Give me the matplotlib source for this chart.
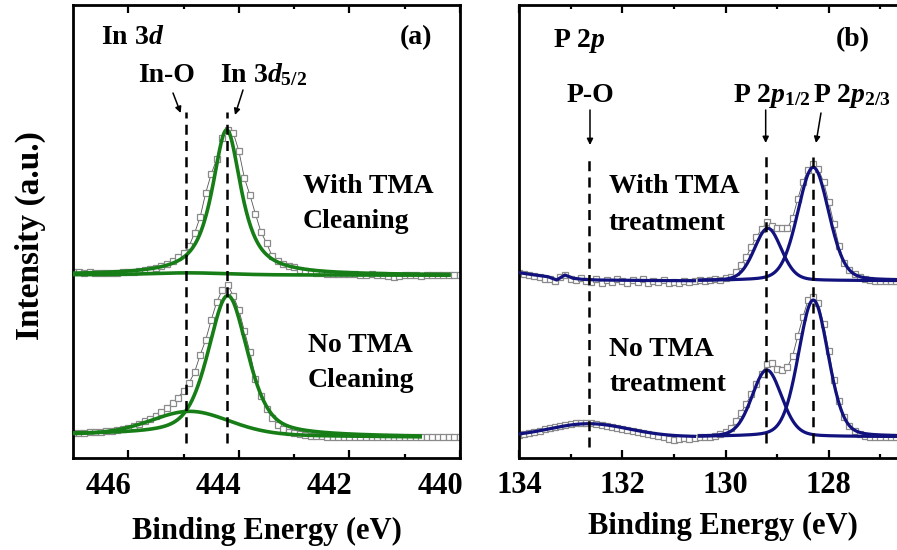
import numpy as np
import matplotlib
matplotlib.use('Agg')
import matplotlib.pyplot as plt
from matplotlib.transforms import ScaledTranslation

plt.rcParams['font.family'] = 'serif'
plt.rcParams['font.serif'] = ['Liberation Serif', 'DejaVu Serif']
plt.rcParams['font.weight'] = 'bold'
plt.rcParams['mathtext.fontset'] = 'custom'
plt.rcParams['mathtext.rm'] = 'Liberation Serif:bold'
plt.rcParams['mathtext.it'] = 'Liberation Serif:bold:italic'
plt.rcParams['mathtext.bf'] = 'Liberation Serif:bold'

## Données XPS (intensité en unités arbitraires, spectres décalés)
# In 3d : de 447.0 eV à 440.0 eV, pas 0.1 eV
in_e0 = 447.0
in_tma = [186, 186, 185.5, 186, 185.5, 185, 185.5, 185, 185.5, 186,
          186, 186.5, 187, 188, 189, 190.5, 192.5, 194.5, 197, 201,
          205, 212, 225, 241, 265, 284, 299, 320, 328.5, 325,
          307, 280, 263, 244, 226, 215, 202, 197, 194, 192,
          191, 188.5, 187, 186, 185.5, 185, 184.5, 184.5, 184, 184.5,
          184, 184, 183.5, 183.5, 184, 183.5, 183, 182, 181.5, 182,
          183, 183.5, 183, 182.5, 183, 183.5, 183, 183, 183, 183, 183]
in_notma = [25, 25.5, 25.5, 26, 26, 26.5, 27, 27.5, 28, 29.5,
            30.5, 32.5, 34.5, 37, 39.5, 42.5, 46.5, 50.5, 55, 60.5,
            67, 75, 86, 103, 118, 138, 156, 168, 173, 162,
            148, 127, 106, 79, 62, 49, 40, 33.5, 29.5, 26.5,
            25.3, 24, 23, 22.5, 22, 22, 21.5, 21.5, 21.5, 21.5,
            21, 21.5, 21, 21, 21.5, 21, 21, 21.5, 21, 21,
            21, 21.5, 21, 21, 21, 21.5, 21, 21, 21, 21, 21]

# P 2p : de 134.0 eV à 126.7 eV, pas 0.1 eV
p_e0 = 134.0
p_tma = [185, 184, 183, 182, 181, 179.5, 179, 177, 181, 183,
         179, 178, 180, 177, 176, 179, 175.5, 178, 176.5, 179.5,
         177, 175, 178.5, 176, 179, 175.5, 177, 176, 178, 175,
         176.5, 175, 177, 176, 177.5, 178, 177, 178, 179, 178,
         180, 181, 186, 193, 201, 211, 221.3, 228.7, 236, 232,
         230, 230.5, 230, 240, 259, 276, 288, 294, 289, 276,
         256, 234, 212, 195, 188.5, 184.5, 181.5, 179.5, 178, 177.5,
         177, 177.5, 177, 177]
p_notma = [23.5, 24.5, 25.5, 26.5, 27.5, 29, 30, 31.5, 32.5, 33.5,
           34.5, 35, 35.5, 35.5, 35, 34.5, 33.5, 32.5, 31.5, 30.5,
           29, 28, 27, 26, 25, 24, 23, 22, 21, 19.5,
           18.5, 19.5, 20.5, 19.5, 20, 21.5, 21.3, 21.5, 22, 24,
           26, 30, 37, 45, 54, 64, 74, 84, 94, 95,
           89.5, 88, 91, 102, 122, 141, 158, 160.7, 155, 134,
           107, 78, 57, 41, 32, 27.5, 24.5, 22.5, 21.3, 21.5,
           21, 21.5, 21, 21.3]

# Composantes ajustées : (centre eV, hauteur, largeur à mi-hauteur eV, fraction lorentzienne)
in_tma_fit = [(444.22, 145, 0.63, 0.85), (444.9, 2, 1.6, 0.2)]
in_tma_bg = (183.3, 182.8)      # fond à 447.0 et 440.2 eV
in_notma_fit = [(444.2, 140, 0.85, 0.5), (444.88, 24, 1.7, 0.2)]
in_notma_bg = (23.5, 21.0)      # fond à 447.0 et 440.72 eV

p_tma_fit = [(128.30, 113.4, 0.71, 0.2), (129.18, 52.4, 0.62, 0.2)]
p_tma_bg = 177.3
# ligne de fond P-O (avec TMA), relevée point par point
p_tma_po_e = [134.0, 133.69, 133.44, 133.27, 133.11, 132.95, 132.78, 132.47, 131.5, 130.6]
p_tma_po_h = [185.3, 183, 181.3, 178, 183, 179.7, 178.7, 178, 177.5, 177.3]
p_notma_fit = [(128.30, 136.7, 0.68, 0.2), (129.20, 66.7, 0.68, 0.2)]
p_notma_po = (132.65, 13, 1.8, 0.0)
p_notma_bg = 21.3

# positions des traits verticaux
in_lines = [444.95, 444.22]
p_lines = [132.64, 129.21, 128.31]

green = '#177d17'
navy = '#12127e'


def pvoigt(e, c, h, w, eta):
    u = (e - c) / w
    return h * (eta / (1 + 4 * u**2) + (1 - eta) * np.exp(-4 * np.log(2) * u**2))


def donnees(ax, e0, vals):
    e = e0 - 0.1 * np.arange(len(vals))
    ax.plot(e, vals, '-', color='#555555', lw=0.6, marker='s', ms=4.6,
            mfc='white', mec='#8a8a8a', mew=0.9, zorder=2)


def style(ax):
    for s in ax.spines.values():
        s.set_linewidth(2)
    ax.set_ylim(0, 453)
    ax.tick_params(which='both', direction='in', top=True, bottom=True,
                   left=False, right=False, labelleft=False, width=1.6)
    ax.tick_params(which='major', length=5.5, labelsize=22)
    ax.tick_params(which='minor', length=3)


fig = plt.figure(figsize=(8.97, 5.5), dpi=100)
ax1 = fig.add_axes([73/897, 92/550, 387/897, 453/550])
ax2 = fig.add_axes([519/897, 92/550, 413/897, 453/550])

## (a) In 3d
style(ax1)
ax1.set_xlim(447.0, 440.03)
ax1.set_xticks([446, 444, 442, 440])
ax1.set_xticks([445, 443, 441], minor=True)
ax1.tick_params(which='major', pad=10)
for lab in ax1.get_xticklabels():
    lab.set_transform(lab.get_transform() + ScaledTranslation(-0.2, 0, fig.dpi_scale_trans))

donnees(ax1, in_e0, in_tma)
donnees(ax1, in_e0, in_notma)

e = np.linspace(447.0, 440.2, 500)
fond = in_tma_bg[0] + (in_tma_bg[1] - in_tma_bg[0]) * (447.0 - e) / (447.0 - 440.2)
for c, h, w, eta in in_tma_fit:
    ax1.plot(e, fond + pvoigt(e, c, h, w, eta), color=green, lw=2.6, zorder=3)
e = np.linspace(447.0, 440.72, 500)
fond = in_notma_bg[0] + (in_notma_bg[1] - in_notma_bg[0]) * (447.0 - e) / (447.0 - 440.72)
for c, h, w, eta in in_notma_fit:
    ax1.plot(e, fond + pvoigt(e, c, h, w, eta), color=green, lw=2.6, zorder=3)

for x in in_lines:
    ax1.plot([x, x], [15, 346], color='black', lw=1.8, dashes=(4, 2.5), zorder=4)

t = dict(transform=ax1.transAxes, fontsize=20, fontweight='bold', va='baseline')
ax1.text(0.0716, 0.914, 'In 3$d$', **t)
ax1.text(0.928, 0.914, '(a)', ha='right', **t)
ax1.text(0.243, 0.830, 'In-O', ha='center', **t)
ax1.text(0.380, 0.830, r'In 3$d_{\mathrm{5/2}}$', **t)
ax1.text(0.594, 0.584, 'With TMA', **t)
ax1.text(0.594, 0.507, 'Cleaning', **t)
ax1.text(0.607, 0.2347, 'No TMA', **t)
ax1.text(0.607, 0.157, 'Cleaning', **t)

fl = dict(arrowstyle='-|>', lw=1.1, color='black', mutation_scale=9, shrinkA=0, shrinkB=0)
ax1.annotate('', xy=(0.2783, 0.7616), xytext=(0.2584, 0.8057), xycoords='axes fraction', arrowprops=fl)
ax1.annotate('', xy=(0.4186, 0.7572), xytext=(0.4393, 0.8124), xycoords='axes fraction', arrowprops=fl)

## (b) P 2p
style(ax2)
ax2.set_xlim(134, 126)
ax2.set_xticks([134, 132, 130, 128])
ax2.set_xticks([133, 131, 129, 127], minor=True)
ax2.tick_params(which='major', pad=9.5)

donnees(ax2, p_e0, p_tma)
donnees(ax2, p_e0, p_notma)

ax2.plot(p_tma_po_e, p_tma_po_h, color=navy, lw=2.3, zorder=3)
e = np.linspace(134.0, 130.6, 300)
c, h, w, eta = p_notma_po
ax2.plot(e, p_notma_bg + pvoigt(e, c, h, w, eta), color=navy, lw=2.3, zorder=3)
e = np.linspace(130.5, 126.5, 500)
for c, h, w, eta in p_tma_fit:
    ax2.plot(e, p_tma_bg + pvoigt(e, c, h, w, eta), color=navy, lw=2.3, zorder=3)
for c, h, w, eta in p_notma_fit:
    ax2.plot(e, p_notma_bg + pvoigt(e, c, h, w, eta), color=navy, lw=2.3, zorder=3)

ax2.plot([p_lines[0]]*2, [11, 303], color='black', lw=1.8, dashes=(4, 2.5), zorder=4)
ax2.plot([p_lines[1]]*2, [15, 303], color='black', lw=1.8, dashes=(4, 2.5), zorder=4)
ax2.plot([p_lines[2]]*2, [15, 301], color='black', lw=1.8, dashes=(4, 2.5), zorder=4)

t = dict(transform=ax2.transAxes, fontsize=20, fontweight='bold', va='baseline')
ax2.text(0.0816, 0.908, 'P 2$p$', **t)
ax2.text(0.850, 0.909, '(b)', ha='right', **t)
ax2.text(0.172, 0.7866, 'P-O', ha='center', **t)
ax2.text(0.518, 0.7866, r'P 2$p_{\mathrm{1/2}}$', **t)
ax2.text(0.712, 0.7866, r'P 2$p_{\mathrm{2/3}}$', **t)
ax2.text(0.218, 0.584, 'With TMA', **t)
ax2.text(0.2155, 0.503, 'treatment', **t)
ax2.text(0.218, 0.225, 'No TMA', **t)
ax2.text(0.218, 0.1486, 'treatment', **t)

ax2.annotate('', xy=(0.1719, 0.6909), xytext=(0.1719, 0.7682), xycoords='axes fraction', arrowprops=fl)
ax2.annotate('', xy=(0.5973, 0.6954), xytext=(0.5973, 0.7682), xycoords='axes fraction', arrowprops=fl)
ax2.annotate('', xy=(0.7191, 0.6954), xytext=(0.7312, 0.7616), xycoords='axes fraction', arrowprops=fl)

## titres des axes
fig.text(266.5/897, 1 - 531.7/550, 'Binding Energy (eV)', ha='center', va='center',
         fontsize=22, fontweight='bold')
fig.text(722.5/897, 1 - 526.7/550, 'Binding Energy (eV)', ha='center', va='center',
         fontsize=22, fontweight='bold')
fig.text(30/897, 1 - 236/550, 'Intensity (a.u.)', ha='center', va='center',
         rotation=90, fontsize=24, fontweight='bold')

plt.savefig('out.png', dpi=100)
